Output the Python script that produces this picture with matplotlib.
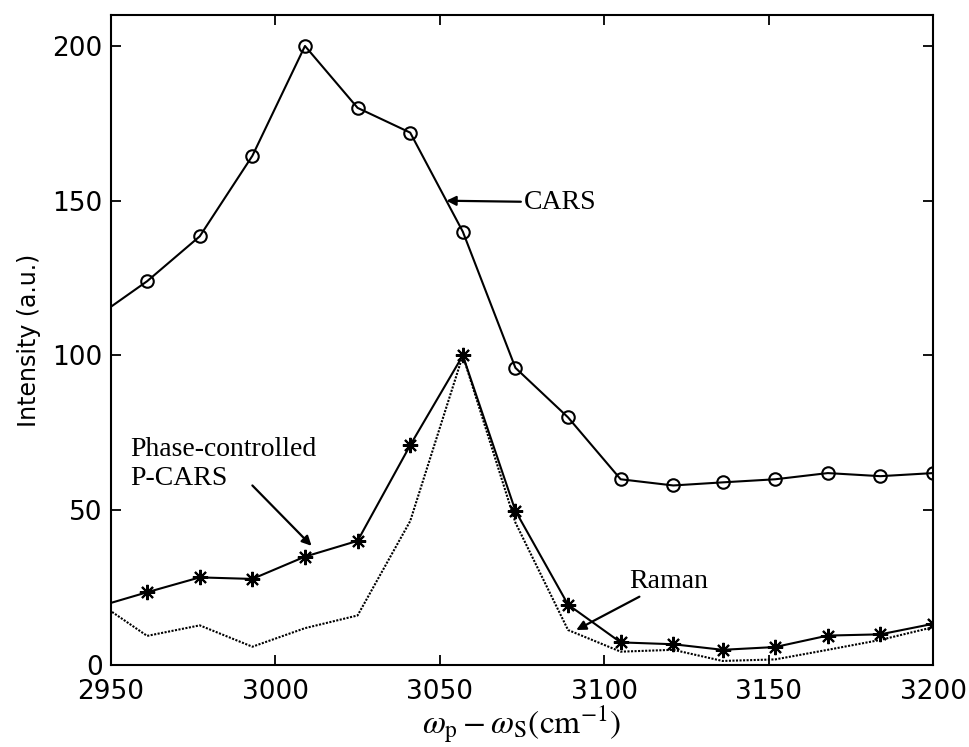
import numpy as np
import matplotlib.pyplot as plt

plt.rcParams['mathtext.fontset'] = 'stix'

shift = [2945, 2961, 2977, 2993, 3009, 3025, 3041, 3057, 3073,
         3089, 3105, 3121, 3136, 3152, 3168, 3184, 3200]
cars = [112, 124, 138.5, 164.5, 200, 180, 172, 140, 96,
        80, 60, 58, 59, 60, 62, 61, 62]
pcars = [18.5, 23.5, 28.3, 27.8, 35, 40.1, 71, 100, 49.8,
         19.5, 7.3, 6.7, 4.9, 5.8, 9.5, 9.9, 13.3]
raman = [21, 9.4, 12.8, 5.9, 11.9, 16, 46.5, 100, 46,
         11.3, 4.3, 4.9, 1.3, 1.8, 4.9, 8.1, 12.2]

fig = plt.figure(figsize=(9.7, 7.47), dpi=100)
ax = fig.add_axes([0.1144, 0.1098, 0.8475, 0.8701])

ax.plot(shift, cars, color='k', lw=1.5, marker='o', ms=9, mfc='none', mew=1.5)
ax.plot(shift, pcars, color='k', lw=1.5, marker=(8, 2, 0), ms=11, mew=1.5)
ax.plot(shift, raman, color='k', lw=1.5, ls=(0, (1.0, 0.7)))

ax.set_xlim(2950, 3200)
ax.set_ylim(0, 210)
ax.set_xticks([2950, 3000, 3050, 3100, 3150, 3200])
ax.set_yticks([0, 50, 100, 150, 200])
ax.tick_params(direction='in', top=True, right=True, length=7, width=1.3,
               labelsize=19, pad=6)
ax.tick_params(axis='x', pad=10)
for s in ax.spines.values():
    s.set_linewidth(1.5)

ax.set_ylabel('Intensity (a.u.)', fontsize=17, labelpad=8)
ax.set_xlabel(r'$\omega_{\rm p} - \omega_{\rm S}({\rm cm}^{-1})$', fontsize=24,
              labelpad=-1)

tkw = dict(fontsize=20, family='Liberation Serif')
akw = dict(arrowstyle='-|>', color='k', lw=1.6, mutation_scale=14, shrinkA=0, shrinkB=0)
ax.annotate('CARS', xy=(3052, 150), xytext=(3075.5, 149.5), va='center', ha='left',
            arrowprops=akw, **tkw)
ax.text(2956, 65, 'Phase-controlled\nP-CARS', va='center', ha='left',
        linespacing=1.2, **tkw)
ax.annotate('', xy=(3011, 38.5), xytext=(2993, 58), arrowprops=akw)
ax.annotate('Raman', xy=(3091.5, 11.3), xytext=(3107.5, 27), va='center', ha='left',
            arrowprops=akw, **tkw)

fig.savefig('out.png', dpi=100)
